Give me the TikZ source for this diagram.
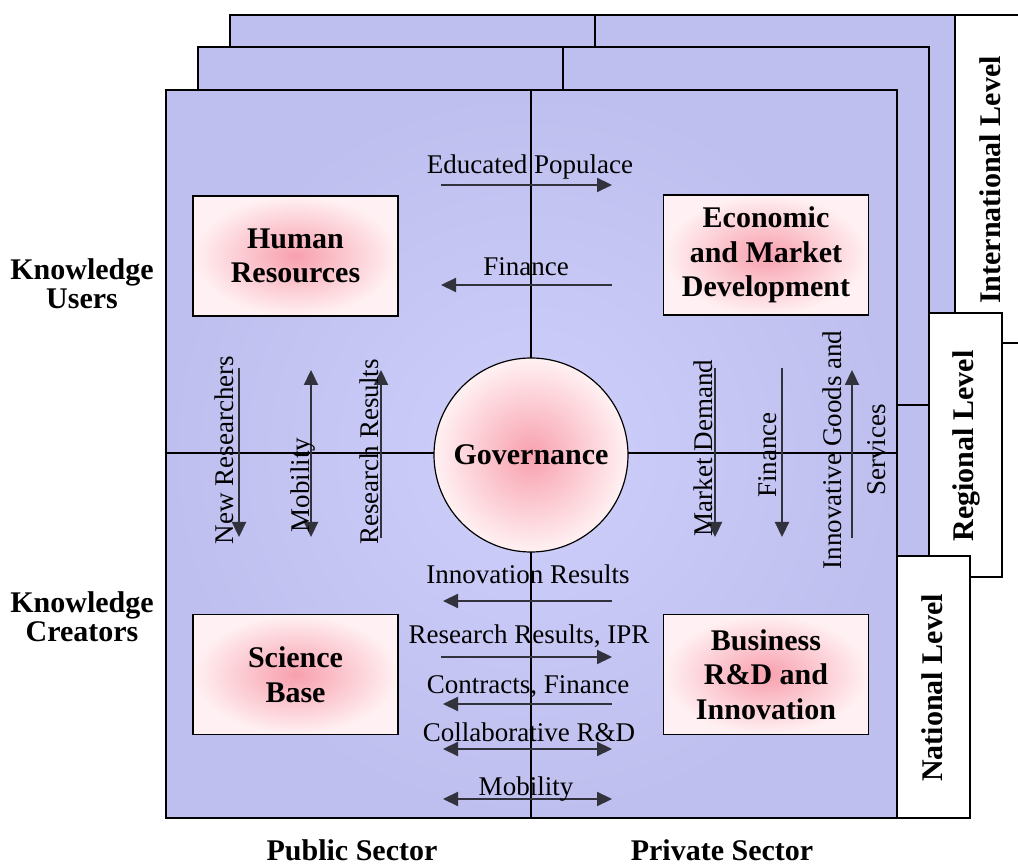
\documentclass[tikz,border=0pt]{standalone}
\usepackage{fontspec}
\setmainfont{Liberation Serif}
\usetikzlibrary{arrows.meta}

\definecolor{panelblue}{RGB}{191,191,239}
\definecolor{panellight}{RGB}{207,207,252}
\definecolor{boxpink}{RGB}{248,160,174}
\definecolor{boxpale}{RGB}{255,241,243}
\definecolor{flowgray}{RGB}{50,50,60}

\begin{document}
\begin{tikzpicture}[x=0.5pt,y=0.5pt]
\tikzstyle{every node}+=[inner sep=0pt]
\tikzstyle{panel}=[draw=black, line width=0.8pt, fill=panelblue]
\tikzstyle{frontpanel}=[draw=black, line width=0.8pt, inner color=panellight, outer color=panelblue]
\tikzstyle{levelbox}=[draw=black, line width=0.8pt, fill=white]
\tikzstyle{divider}=[black, line width=0.8pt]
\tikzstyle{actor}=[draw=black, line width=0.8pt, inner color=boxpink, outer color=boxpale, minimum width=102.5pt, minimum height=60pt, align=center, font=\fontsize{15}{17.3}\selectfont\bfseries]
\tikzstyle{gov}=[circle, draw=black, line width=0.6pt, inner color=boxpink, outer color=boxpale, minimum size=97pt, font=\fontsize{15}{17.3}\selectfont\bfseries]
\tikzstyle{lbl}=[font=\fontsize{13.5}{16}\selectfont, anchor=base]
\tikzstyle{vlbl}=[lbl, rotate=90]
\tikzstyle{blbl}=[font=\fontsize{15}{14.5}\selectfont\bfseries, align=center]
\tikzstyle{lvltext}=[font=\fontsize{15}{17}\selectfont\bfseries, rotate=90]
\tikzstyle{flow}=[flowgray, line width=1.1pt, -{Triangle[length=7.5pt,width=7pt]}]
\tikzstyle{twoway}=[flowgray, line width=1.1pt, {Triangle[length=7.5pt,width=7pt]}-{Triangle[length=7.5pt,width=7pt]}]
\useasboundingbox (0,0) rectangle (1018,-865);
\clip (0,0) rectangle (1018,-865);
% international layer
\draw [panel] (230,-15) rectangle (955,-743);
\draw [divider] (595,-15) -- (595,-743);
\draw [divider] (230,-345) -- (955,-345);
\draw [levelbox] (955,-15) rectangle (1030,-343);
\node [lvltext] (intl) at (990,-180) {International Level};
% regional layer
\draw [panel] (198,-47) rectangle (929,-775);
\draw [divider] (563,-47) -- (563,-775);
\draw [divider] (198,-405) -- (929,-405);
\draw [levelbox] (929,-313) rectangle (1002,-577);
\node [lvltext] (regl) at (966,-446) {Regional Level};
% national layer
\draw [frontpanel] (166,-90) rectangle (897,-818);
\draw [levelbox] (897,-556) rectangle (970,-818);
\node [lvltext] (natl) at (932,-688) {National Level};
\draw [divider] (531,-90) -- (531,-818);
\draw [divider] (166,-453) -- (897,-453);
% actors
\node [actor] (hr) at (295.5,-256) {Human\\Resources};
\node [actor] (emd) at (766,-255) {Economic\\and Market\\Development};
\node [actor] (sb) at (295.5,-674.5) {Science\\Base};
\node [actor] (brd) at (766,-674.5) {Business\\R\&D and\\Innovation};
\node [gov] (gov) at (531,-455) {Governance};
% flows between users
\coordinate (eduL) at (441,-185); \coordinate (eduR) at (612,-185);
\draw [flow] (eduL) -- (eduR);
\node [lbl] (edu) at (530,-174) {Educated Populace};
\coordinate (finL) at (441,-285); \coordinate (finR) at (612,-285);
\draw [flow] (finR) -- (finL);
\node [lbl] (fin) at (526,-276) {Finance};
% flows between creators
\coordinate (innL) at (443,-601); \coordinate (innR) at (612,-601);
\draw [flow] (innR) -- (innL);
\node [lbl] (inn) at (528,-584) {Innovation Results};
\coordinate (iprL) at (441,-657); \coordinate (iprR) at (612,-657);
\draw [flow] (iprL) -- (iprR);
\node [lbl] (ipr) at (529,-644) {Research Results, IPR};
\coordinate (conL) at (443,-704); \coordinate (conR) at (612,-704);
\draw [flow] (conR) -- (conL);
\node [lbl] (con) at (528,-694) {Contracts, Finance};
\coordinate (colL) at (443,-749); \coordinate (colR) at (612,-749);
\draw [twoway] (colL) -- (colR);
\node [lbl] (col) at (529,-741) {Collaborative R\&D};
\coordinate (mobL) at (443,-799); \coordinate (mobR) at (612,-799);
\draw [twoway] (mobL) -- (mobR);
\node [lbl] (mob) at (526,-796) {Mobility};
% public sector flows
\coordinate (nrT) at (239,-368); \coordinate (nrB) at (239,-537);
\draw [flow] (nrT) -- (nrB);
\node [vlbl] (nr) at (233,-450) {New Researchers};
\coordinate (pmT) at (311,-370); \coordinate (pmB) at (311,-537);
\draw [twoway] (pmT) -- (pmB);
\node [vlbl] (pm) at (309,-485) {Mobility};
\coordinate (rrT) at (381,-370); \coordinate (rrB) at (381,-538);
\draw [flow] (rrB) -- (rrT);
\node [vlbl] (rr) at (378,-452) {Research Results};
% private sector flows
\coordinate (mdT) at (715,-368); \coordinate (mdB) at (715,-537);
\draw [flow] (mdT) -- (mdB);
\node [vlbl] (md) at (712,-448) {Market Demand};
\coordinate (pfT) at (782,-368); \coordinate (pfB) at (782,-537);
\draw [flow] (pfT) -- (pfB);
\node [vlbl] (pf) at (776,-455) {Finance};
\coordinate (igT) at (852,-370); \coordinate (igB) at (852,-538);
\draw [flow] (igB) -- (igT);
\node [rotate=90, align=center, font=\fontsize{13.5}{22}\selectfont] (ig) at (854,-450) {Innovative Goods and\\Services};
% outer labels
\node [blbl] (users) at (82,-284) {Knowledge\\Users};
\node [blbl] (creators) at (82,-617) {Knowledge\\Creators};
\node [blbl, anchor=base] (pubsec) at (352,-861) {Public Sector};
\node [blbl, anchor=base] (privsec) at (722,-861) {Private Sector};
\end{tikzpicture}
\end{document}
